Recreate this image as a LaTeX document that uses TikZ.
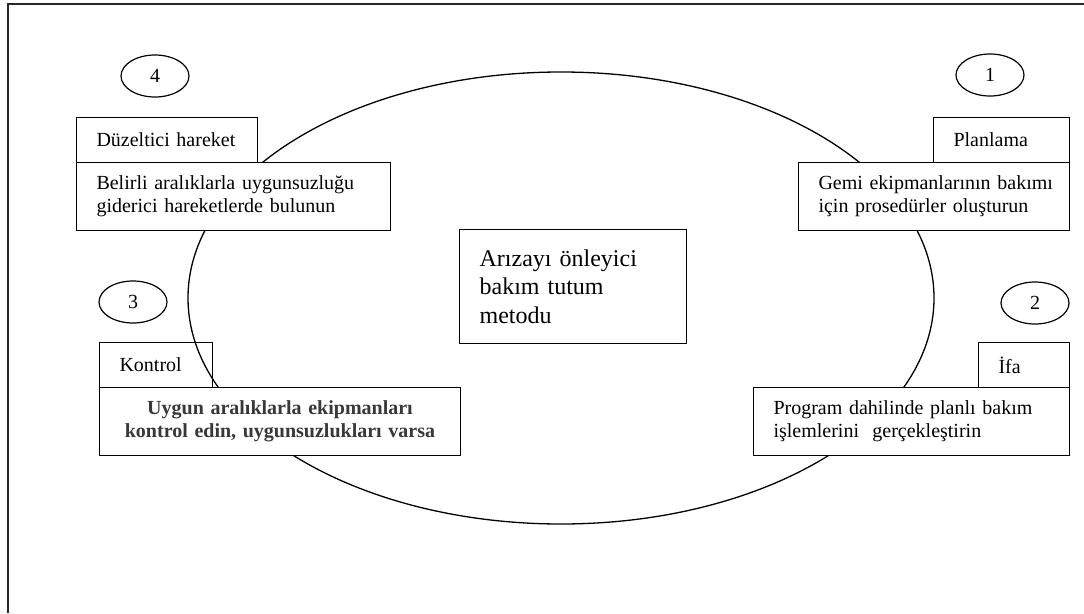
\documentclass[tikz,border=0pt]{standalone}
\usepackage{fontspec}
\setmainfont{Liberation Serif}
\usetikzlibrary{shapes.geometric}
\begin{document}
\begin{tikzpicture}[x=1pt,y=-1pt,
  lbl/.style={font=\fontsize{20}{23}\selectfont},
  tab/.style={draw, line width=1pt, anchor=north west, inner xsep=20pt,
    inner ysep=0pt, align=left, lbl},
  card/.style={draw, fill=white, line width=1pt, anchor=north west,
    inner xsep=20pt, inner ysep=0pt, align=left, lbl},
  num/.style={draw, ellipse, line width=1.2pt, minimum width=68pt,
    minimum height=42pt, inner sep=0pt, lbl},
  frame/.style={draw=black!85, line width=1.6pt},
  cycle/.style={draw, line width=1.3pt},
]
\useasboundingbox (0,0) rectangle (1084,613);

% page frame (top and left edges)
\draw[frame] (8,613) -- (8,4) -- (1084,4);

% the maintenance cycle
\draw[cycle] (561,298) ellipse [x radius=373pt, y radius=226pt];

% centre label
\node[card, line width=1.3pt, text width=187pt, minimum height=114pt,
  font=\fontsize{24}{28.5}\selectfont] (core) at (459,229)
  {Arızayı önleyici\\bakım tutum\\metodu};

% step numbers
\node[num] (n4) at (155,76) {4};
\node[num] (n1) at (990,75) {1};
\node[num] (n3) at (133,302) {3};
\node[num] (n2) at (1035,303) {2};

% step 4
\node[tab, text width=141pt, minimum height=45pt] (t4) at (76,117) {\mbox{Düzeltici hareket}};
\node[card, text width=274pt, minimum height=68pt] (c4) at (76,162)
  {\mbox{Belirli aralıklarla uygunsuzluğu}\\\mbox{giderici hareketlerde bulunun}};

% step 1
\node[tab, text width=96pt, minimum height=45pt] (t1) at (933,117) {Planlama};
\node[card, text width=231pt, minimum height=68pt] (c1) at (798,162)
  {\mbox{Gemi ekipmanlarının bakımı}\\\mbox{için prosedürler oluşturun}};

% step 3
\node[tab, text width=73pt, minimum height=45pt] (t3) at (99,342) {Kontrol};
\node[card, text width=321pt, minimum height=68pt, align=center,
  font=\fontsize{20}{23}\selectfont\bfseries, text=black!78] (c3) at (99,387)
  {\mbox{Uygun aralıklarla ekipmanları}\\\mbox{kontrol edin, uygunsuzlukları varsa}};

% step 2
\node[tab, text width=51pt, minimum height=45pt] (t2) at (978,342) {İfa};
\node[card, text width=276pt, minimum height=68pt] (c2) at (753,387)
  {\mbox{Program dahilinde planlı bakım}\\\mbox{işlemlerini\ \ gerçekleştirin}};
\end{tikzpicture}
\end{document}
